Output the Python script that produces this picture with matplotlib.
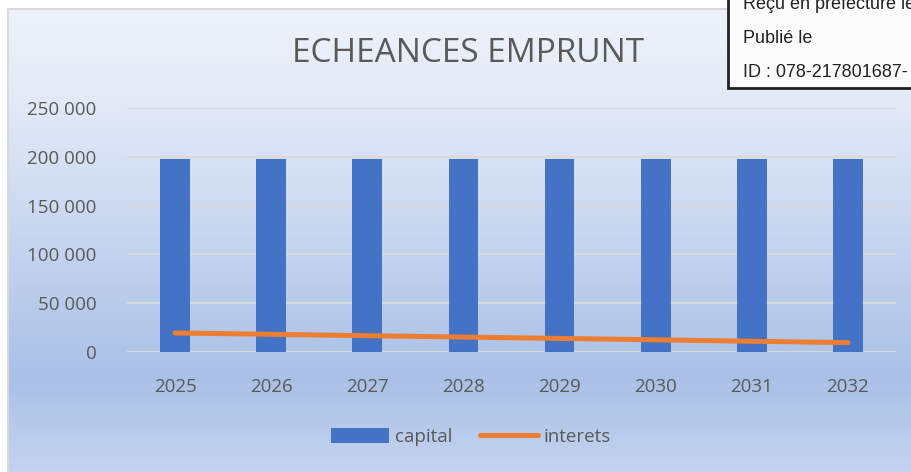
import matplotlib.pyplot as plt
import numpy as np
from matplotlib.colors import LinearSegmentedColormap
from matplotlib.ticker import FuncFormatter

annees = ['2025', '2026', '2027', '2028', '2029', '2030', '2031', '2032']
capital = [197700, 197700, 197700, 197700, 197700, 197700, 197700, 197700]
interets = [19500, 18100, 16700, 15300, 13900, 12500, 11000, 9600]

gris = '#595959'
police = 'Open Sans'

fig = plt.figure(figsize=(9.12, 4.72), dpi=100)
fig.patch.set_facecolor('white')

# fond dégradé du graphique
bg = fig.add_axes([8/912, 0, 1 - 8/912, (472 - 9)/472])
cmap = LinearSegmentedColormap.from_list('fond', [(0, '#eef2fa'), (0.2, '#e3eaf7'),
                                                  (0.8, '#aac0e6'), (1, '#c4d4ef')])
grad = np.linspace(0, 1, 256).reshape(-1, 1)
bg.imshow(grad, aspect='auto', cmap=cmap, extent=[0, 1, 0, 1], origin='upper')
bg.set_xticks([])
bg.set_yticks([])
for s in ['right', 'bottom']:
    bg.spines[s].set_visible(False)
for s in ['left', 'top']:
    bg.spines[s].set_color('#d9d9d9')
    bg.spines[s].set_linewidth(1.5)

ax = fig.add_axes([127/912, 1 - 352/472, 769/912, 244/472])
ax.set_facecolor('none')
x = np.arange(len(annees))
b = ax.bar(x, capital, width=0.31, color='#4472C4', label='capital', zorder=2)
l, = ax.plot(x, interets, color='#ED7D31', lw=3.6, solid_capstyle='round', label='interets', zorder=3)
ax.set_xlim(-0.5, len(annees) - 0.5)
ax.set_ylim(0, 250000)
ax.set_yticks(range(0, 250001, 50000))
ax.yaxis.set_major_formatter(FuncFormatter(lambda v, p: f'{int(v):,}'.replace(',', ' ')))
ax.set_xticks(x)
ax.set_xticklabels(annees)
ax.grid(axis='y', color='#d9d9d9', lw=1.5, zorder=1)
ax.tick_params(length=0, labelsize=13.5, labelcolor=gris)
ax.tick_params(axis='y', pad=22)
ax.tick_params(axis='x', pad=19)
for lab in ax.get_xticklabels() + ax.get_yticklabels():
    lab.set_family(police)
for s in ax.spines.values():
    s.set_visible(False)

fig.text(468/912, 1 - 54/472, 'ECHEANCES EMPRUNT', ha='center', va='center',
         fontsize=24, color=gris, family=police)

leg = fig.legend([b, l], ['capital', 'interets'], loc='center', bbox_to_anchor=(471/912, 1 - 437/472),
                 ncol=2, frameon=False, prop={'family': police, 'size': 13.5},
                 handlelength=3.1, handleheight=0.9, columnspacing=1.5, handletextpad=0.3)
for t in leg.get_texts():
    t.set_color(gris)

# tampon préfecture
stamp = plt.Rectangle((728/912, 1 - 88/472), 200/912, 100/472, transform=fig.transFigure,
                      facecolor='#fcfcfd', edgecolor='#222222', lw=2, zorder=5)
fig.patches.append(stamp)
for txt, yb in [('Reçu en préfecture le', 9), ('Publié le', 43), ('ID : 078-217801687-', 77)]:
    fig.text(743/912, 1 - yb/472, txt, ha='left', va='baseline', fontsize=13,
             family='Liberation Sans', color='#222222', zorder=6)

fig.savefig('out.png', dpi=100)
